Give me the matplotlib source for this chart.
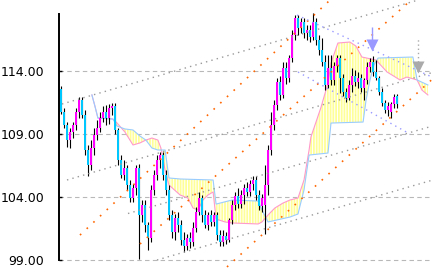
import numpy as np
import matplotlib
matplotlib.use("Agg")
import matplotlib.pyplot as plt

# ---------------- data (daily-ish candles, price in JPY) ----------------
opens = [112.57, 110.75, 109.71, 108.52, 109.16, 109.71, 110.75, 111.70, 110.51, 107.73,
         106.54, 107.89, 108.92, 109.48, 110.27, 110.75, 110.27, 111.06, 111.22, 109.32,
         106.94, 105.75, 106.30, 104.95, 103.92, 104.71, 106.30, 102.57, 103.37, 101.78,
         100.75, 104.56, 105.75, 106.94, 107.33, 105.75, 104.56, 102.57, 101.22, 102.33,
         101.78, 100.59, 100.11, 100.75, 100.43, 101.54, 102.81, 103.92, 102.57, 101.78,
         102.57, 102.02, 102.57, 100.98, 100.43, 100.90, 100.59, 102.17, 103.37, 104.08,
         103.44, 104.16, 104.71, 104.40, 105.03, 105.35, 104.16, 103.29, 103.37, 104.95,
         107.73, 109.71, 111.30, 113.13, 112.10, 114.24, 113.44, 115.03, 116.86, 118.21,
         117.41, 117.89, 117.02, 117.25, 116.70, 117.89, 116.46, 115.67, 114.71, 112.89,
         114.24, 113.29, 114.40, 115.03, 113.44, 112.33, 111.86, 112.89, 113.60, 113.13,
         113.44, 112.65, 113.29, 114.32, 114.71, 113.92, 113.44, 112.33, 111.46, 110.90,
         110.75, 111.38, 112.02]
highs = [112.81, 111.06, 109.95, 109.48, 109.95, 111.06, 111.94, 111.94, 110.90, 108.13,
         108.52, 109.48, 110.11, 110.75, 111.22, 111.30, 111.38, 111.46, 111.46, 109.48,
         107.33, 106.94, 106.54, 105.35, 105.03, 106.54, 106.62, 103.76, 103.76, 102.02,
         104.95, 106.14, 107.33, 107.57, 107.57, 106.14, 104.95, 102.97, 102.65, 102.81,
         102.17, 101.22, 101.06, 101.22, 102.02, 103.21, 104.40, 104.16, 102.97, 102.81,
         102.97, 102.81, 102.81, 101.38, 101.38, 101.22, 102.33, 103.76, 104.40, 104.71,
         104.56, 105.03, 105.19, 105.35, 105.67, 105.67, 104.56, 104.24, 106.54, 108.13,
         110.75, 111.70, 113.44, 113.60, 114.71, 114.71, 115.27, 117.25, 118.44, 118.44,
         118.21, 118.21, 117.65, 117.65, 118.60, 118.21, 116.86, 116.62, 115.27, 115.27,
         115.27, 114.71, 115.27, 115.27, 113.76, 112.65, 113.29, 114.24, 114.08, 113.92,
         113.76, 113.44, 114.71, 115.03, 115.19, 114.87, 113.60, 112.65, 111.70, 111.54,
         111.54, 112.17, 112.17]
lows = [110.59, 109.48, 107.97, 107.89, 108.68, 109.32, 110.27, 110.27, 107.33, 105.67,
        106.14, 107.33, 108.52, 109.16, 109.95, 109.71, 109.79, 110.51, 109.00, 106.54,
        105.51, 105.35, 104.56, 103.60, 103.60, 104.16, 99.08, 102.02, 101.22, 99.79,
        100.43, 104.16, 105.35, 106.30, 105.35, 104.16, 102.17, 100.75, 100.59, 101.22,
        100.19, 99.64, 99.79, 99.95, 100.11, 101.22, 102.57, 102.02, 101.54, 101.38,
        101.70, 101.70, 100.59, 100.11, 100.11, 100.27, 100.43, 101.86, 102.97, 103.13,
        103.13, 103.44, 104.08, 104.08, 104.56, 103.76, 102.97, 102.81, 101.06, 104.16,
        107.33, 109.32, 110.90, 111.70, 111.86, 112.97, 113.13, 114.71, 116.46, 116.86,
        117.02, 116.62, 116.46, 116.30, 116.46, 116.06, 115.27, 114.40, 112.49, 112.65,
        112.89, 112.89, 113.92, 112.25, 112.02, 111.54, 111.70, 112.33, 112.81, 112.65,
        112.33, 111.70, 112.97, 113.92, 113.60, 113.29, 112.10, 111.22, 110.67, 110.43,
        110.27, 111.06, 111.06]
closes = [110.75, 109.71, 108.52, 109.16, 109.71, 110.75, 111.70, 110.51, 107.73, 106.54,
          107.89, 108.92, 109.48, 110.27, 110.75, 110.27, 111.06, 111.22, 109.32, 106.94,
          105.75, 106.30, 104.95, 103.92, 104.71, 106.30, 102.57, 103.37, 101.78, 100.75,
          104.56, 105.75, 106.94, 107.33, 105.75, 104.56, 102.57, 101.22, 102.33, 101.78,
          100.59, 100.11, 100.75, 100.43, 101.54, 102.81, 103.92, 102.57, 101.78, 102.57,
          102.02, 102.57, 100.98, 100.43, 100.90, 100.59, 102.17, 103.37, 104.08, 103.44,
          104.16, 104.71, 104.40, 105.03, 105.35, 104.16, 103.29, 103.92, 104.95, 107.73,
          109.71, 111.30, 113.13, 112.10, 114.24, 113.44, 115.03, 116.86, 118.21, 117.41,
          117.89, 117.02, 117.25, 116.70, 117.89, 116.46, 115.67, 114.71, 112.89, 114.24,
          113.29, 114.40, 115.03, 113.44, 112.33, 111.86, 112.89, 113.60, 113.13, 113.44,
          112.65, 113.29, 114.32, 114.71, 113.92, 113.44, 112.33, 111.46, 110.90, 111.22,
          111.38, 111.94, 111.38]

# Ichimoku-style cloud spans (x in bar units, shifted forward)
span_a_x = [10.3, 11.3, 12.3, 17.3, 18.7, 21.3, 24.0, 26.3, 28.3, 30.3, 32.3, 34.7, 36.0,
            39.7, 50.7, 51.7, 57.0, 65.7, 67.0, 69.0, 76.3, 79.0, 81.0, 82.7, 89.0, 90.0,
            100.7, 101.7, 103.0, 104.3, 105.7, 117.3, 118.7, 122.3]
span_a = [112.10, 111.22, 110.27, 110.19, 109.63, 109.40, 109.32, 108.84, 108.52, 107.89,
          107.73, 107.73, 105.51, 105.43, 105.35, 103.44, 103.76, 103.68, 102.97, 102.02,
          102.41, 102.65, 104.56, 107.33, 107.49, 109.87, 109.95, 111.70, 113.29, 114.48,
          115.03, 115.11, 113.29, 112.89]
span_b_x = [10.3, 11.3, 12.3, 17.3, 18.7, 21.3, 24.0, 26.3, 28.3, 30.3, 32.3, 33.3, 34.7,
            36.0, 39.7, 42.3, 44.0, 45.7, 47.3, 49.0, 50.7, 51.7, 54.7, 57.0, 65.7, 67.0,
            69.0, 71.3, 74.0, 76.3, 79.0, 81.0, 82.7, 83.3, 86.7, 89.0, 90.0, 92.3, 96.3,
            98.3, 100.3, 105.0, 108.7, 113.0, 115.3, 118.7, 120.3, 122.3]
span_b = [112.10, 111.22, 110.27, 110.19, 109.87, 109.16, 108.13, 108.29, 108.52, 108.68,
          108.52, 107.89, 106.14, 104.95, 104.16, 103.92, 103.13, 102.97, 103.76, 104.16,
          104.40, 102.25, 102.02, 101.94, 101.86, 102.02, 102.57, 103.13, 103.52, 103.76,
          103.92, 105.35, 107.73, 108.76, 111.14, 113.05, 114.63, 116.22, 116.30, 115.98,
          115.11, 114.87, 113.92, 113.29, 113.52, 113.29, 112.49, 112.10]

# trend / channel lines: (x0, y0, x1, y1)
gray_lines = [(0.33, 111.38, 119.0, 119.63),
              (2.0, 105.35, 123.67, 113.87),
              (22.33, 102.69, 123.67, 109.62),
              (32.0, 99.00, 123.67, 105.33)]
orange_lines = [(6.33, 100.98, 89.67, 119.63),
                (26.33, 100.27, 116.67, 119.63),
                (55.33, 98.45, 123.67, 113.33)]
violet_lines = [(78.67, 118.44, 123.67, 113.52),
                (79.0, 113.92, 116.33, 109.00)]

# signal arrows: x, stem top, stem bottom, triangle centre
signal_x = [103.67, 119.0]
signal_top = [117.49, 116.62]
signal_bot = [116.46, 114.71]
signal_tri = [116.06, 114.32]

yticks = [99, 104, 109, 114]

# ---------------- drawing ----------------
W, H = 432, 274
fig = plt.figure(figsize=(W / 100, H / 100), dpi=100)
ax = fig.add_axes([59 / W, 0, 1 - 59 / W, 1])
ax.set_xlim(-0.667, 123.67)
ax.set_ylim(97.89, 119.635)

for y in yticks:
    ax.axhline(y, color="#b8b8b8", lw=0.8, dashes=(4, 3), zorder=1)

# cloud
xs = np.arange(min(span_a_x), max(span_a_x) + 0.001, 0.05)
a = np.interp(xs, span_a_x, span_a)
b = np.interp(xs, span_b_x, span_b)
plt.rcParams["hatch.linewidth"] = 0.7
ax.fill_between(xs, a, b, facecolor="#ffff99", edgecolor="white", hatch="||||||",
                linewidth=0, zorder=2)
ax.plot(span_b_x, span_b, color="#ff99cc", lw=0.8, zorder=3)
ax.plot(span_a_x, span_a, color="#99ccff", lw=0.8, zorder=3)

# candles
idx = np.arange(len(opens))
o = np.array(opens); c = np.array(closes)
ax.vlines(idx + 0.15, lows, highs, color="black", lw=0.8, zorder=4)
up = c >= o
ax.bar(idx[up], (c - o)[up], bottom=o[up], width=0.85, color="#ff00ff", linewidth=0, zorder=5)
ax.bar(idx[~up], (c - o)[~up], bottom=o[~up], width=0.85, color="#00c8ff", linewidth=0, zorder=5)

for x0, y0, x1, y1 in gray_lines:
    ax.plot([x0, x1], [y0, y1], color="#999999", lw=1.0, ls=(0, (1, 3)), zorder=6)
for x0, y0, x1, y1 in orange_lines:
    ax.plot([x0, x1], [y0, y1], color="#ff6600", lw=1.2, ls=(0, (1, 4.5)), zorder=6)
for x0, y0, x1, y1 in violet_lines:
    ax.plot([x0, x1], [y0, y1], color="#9999ff", lw=1.0, ls=(0, (1, 3)), zorder=6)

# signals
ax.vlines(signal_x[0], signal_bot[0], signal_top[0], color="#9999ff", lw=1.0, zorder=7)
ax.plot(signal_x[0], signal_tri[0], marker="v", ms=8, color="#9999ff", mec="none", zorder=7)
ax.plot([signal_x[1], signal_x[1]], [signal_bot[1], signal_top[1]], color="#aaaaaa",
        lw=1.0, ls=(0, (1, 2)), zorder=7)
ax.plot(signal_x[1], signal_tri[1], marker="v", ms=8, color="#aaaaaa", mec="none", zorder=7)

# axes styling
for s in ["top", "right", "bottom"]:
    ax.spines[s].set_visible(False)
ax.spines["left"].set_bounds(99, 118.52)
ax.spines["left"].set_linewidth(1.4)
ax.set_xticks([])
ax.set_yticks(yticks)
ax.set_yticklabels([f"{v:.2f}" for v in yticks],
                   fontfamily=["Liberation Sans Narrow", "DejaVu Sans"], fontsize=9)
ax.tick_params(axis="y", direction="in", length=2.5, width=1.0, pad=10.8, colors="black")
ax.patch.set_visible(False)

fig.savefig("out.png", dpi=100)
